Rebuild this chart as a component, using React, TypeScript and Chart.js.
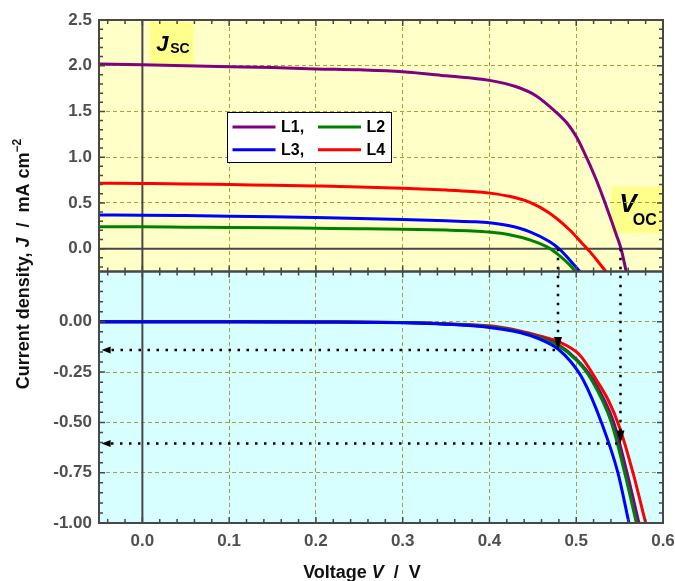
import React, { useEffect, useRef } from 'react';
import { Chart, registerables } from 'chart.js';

Chart.register(...registerables);

// ---------- data ----------
// Top panel: illuminated current density J (mA cm^-2) vs voltage V (V)
const L1_TOP_V = [-0.05, 0, 0.05, 0.1, 0.15, 0.2, 0.25, 0.3, 0.35, 0.4, 0.431, 0.454, 0.477, 0.49, 0.5, 0.5078, 0.5232, 0.5348, 0.5463, 0.552, 0.5578];
const L1_TOP_J = [2.02, 2.01, 2.0, 1.99, 1.98, 1.965, 1.955, 1.935, 1.89, 1.84, 1.77, 1.67, 1.49, 1.365, 1.225, 1.08, 0.751, 0.459, 0.15, -0.014, -0.26];

const L2_TOP_V = [-0.05, 0, 0.05, 0.1, 0.15, 0.2, 0.25, 0.3, 0.35, 0.38, 0.4, 0.423, 0.446, 0.469, 0.481, 0.4925, 0.5];
const L2_TOP_J = [0.24, 0.238, 0.235, 0.232, 0.228, 0.223, 0.218, 0.212, 0.203, 0.194, 0.181, 0.152, 0.097, 0.006, -0.08, -0.178, -0.26];

const L3_TOP_V = [-0.05, 0, 0.05, 0.1, 0.15, 0.2, 0.25, 0.3, 0.35, 0.38, 0.4, 0.423, 0.446, 0.469, 0.481, 0.4925, 0.505];
const L3_TOP_J = [0.368, 0.366, 0.361, 0.355, 0.348, 0.34, 0.33, 0.318, 0.305, 0.295, 0.283, 0.25, 0.186, 0.077, -0.007, -0.124, -0.26];

const L4_TOP_V = [-0.05, 0, 0.05, 0.1, 0.15, 0.2, 0.25, 0.3, 0.35, 0.38, 0.4, 0.423, 0.446, 0.469, 0.4925, 0.508, 0.5155, 0.525, 0.535];
const L4_TOP_J = [0.715, 0.712, 0.708, 0.7, 0.693, 0.685, 0.675, 0.66, 0.64, 0.624, 0.607, 0.572, 0.508, 0.39, 0.204, 0.045, -0.03, -0.14, -0.26];

// Bottom panel: J–V curves (negative branch)
const L1_BOT_V = [-0.05, 0.1, 0.2, 0.3, 0.35, 0.4, 0.435, 0.458, 0.479, 0.5, 0.5193, 0.5432, 0.5585, 0.5723];
const L1_BOT_J = [0, 0, -0.001, -0.004, -0.011, -0.024, -0.048, -0.077, -0.113, -0.185, -0.287, -0.5, -0.75, -1.0];

const L2_BOT_V = [-0.05, 0.1, 0.2, 0.3, 0.35, 0.4, 0.435, 0.458, 0.479, 0.5, 0.5174, 0.5405, 0.5558, 0.5693];
const L2_BOT_J = [0, 0, -0.001, -0.004, -0.011, -0.025, -0.05, -0.08, -0.118, -0.19, -0.287, -0.5, -0.75, -1.0];

const L3_BOT_V = [-0.05, 0.1, 0.2, 0.3, 0.35, 0.4, 0.435, 0.458, 0.479, 0.494, 0.5078, 0.529, 0.548, 0.5608];
const L3_BOT_J = [0, 0, -0.001, -0.005, -0.012, -0.028, -0.053, -0.086, -0.135, -0.2, -0.287, -0.5, -0.75, -1.0];

const L4_BOT_V = [-0.05, 0.1, 0.2, 0.3, 0.35, 0.4, 0.435, 0.458, 0.479, 0.504, 0.523, 0.537, 0.55, 0.5654, 0.58];
const L4_BOT_J = [0, 0, -0.001, -0.004, -0.01, -0.02, -0.045, -0.07, -0.098, -0.165, -0.287, -0.39, -0.525, -0.75, -1.0];

const SERIES_LABELS = ['L1,', 'L2', 'L3,', 'L4'];

// axes
const X_MIN = -0.05;
const X_MAX = 0.6;
const X_TICKS = [0, 0.1, 0.2, 0.3, 0.4, 0.5, 0.6];
const TOP_MIN = -0.25;
const TOP_MAX = 2.5;
const TOP_TICKS = [0, 0.5, 1.0, 1.5, 2.0, 2.5];
const BOT_MIN = -1.0;
const BOT_MAX = 0.25;
const BOT_TICKS = [-1.0, -0.75, -0.5, -0.25, 0];

// read-out arrows (V at the curve, J read on the axis)
const ARROW_V = [0.479, 0.551];
const ARROW_J = [-0.14, -0.605];
const ARROW_END_V = -0.047;

// ---------- styles ----------
const FONT = "'Liberation Sans', Arial, Helvetica, sans-serif";
const COL = { L1: '#800080', L2: '#008000', L3: '#0000ff', L4: '#ff0000' };
const TOP_BG = '#ffffc8';
const BOT_BG = '#d8ffff';
const LABEL_BG = '#ffff8c';
const GRID = '#a3a33a';
const FRAME = '#474747';
const TICK_TXT = '#4f4f4f';

const pts = (v: number[], j: number[]) => v.map((x, i) => ({ x, y: j[i] }));

type Seg = { t: string; font: string; dy?: number };
function drawRich(ctx: CanvasRenderingContext2D, segs: Seg[], cx: number, by: number, rot: number) {
  ctx.save();
  ctx.translate(cx, by);
  if (rot) ctx.rotate(rot);
  let w = 0;
  for (const s of segs) { ctx.font = s.font; w += ctx.measureText(s.t).width; }
  let x = -w / 2;
  ctx.textAlign = 'left';
  ctx.textBaseline = 'alphabetic';
  for (const s of segs) {
    ctx.font = s.font;
    ctx.fillText(s.t, x, s.dy || 0);
    x += ctx.measureText(s.t).width;
  }
  ctx.restore();
}

const panelPlugin = {
  id: 'panels',
  beforeDraw(chart: any) {
    const { ctx, chartArea: a, scales } = chart;
    const yT = scales.yT, yB = scales.yB, x = scales.x;
    ctx.save();
    ctx.fillStyle = TOP_BG;
    ctx.fillRect(a.left, yT.top, a.right - a.left, yT.bottom - yT.top);
    ctx.fillStyle = BOT_BG;
    ctx.fillRect(a.left, yB.top, a.right - a.left, yB.bottom - yB.top);
    // label boxes (data coordinates)
    ctx.fillStyle = LABEL_BG;
    const jx0 = x.getPixelForValue(0.0084), jx1 = x.getPixelForValue(0.059);
    const jy0 = yT.getPixelForValue(2.478), jy1 = yT.getPixelForValue(2.019);
    ctx.fillRect(jx0, jy0, jx1 - jx0, jy1 - jy0);
    const vx0 = x.getPixelForValue(0.5403), vx1 = x.getPixelForValue(0.6);
    const vy0 = yT.getPixelForValue(0.678), vy1 = yT.getPixelForValue(0.168);
    ctx.fillRect(vx0, vy0, vx1 - vx0, vy1 - vy0);
    ctx.fillStyle = '#000';
    ctx.textAlign = 'left';
    ctx.textBaseline = 'alphabetic';
    ctx.font = `italic bold 22px ${FONT}`;
    ctx.fillText('J', jx0 + 6.5, jy0 + 28.7);
    ctx.font = `bold 14px ${FONT}`;
    ctx.fillText('SC', jx0 + 20.5, jy0 + 31.3);
    ctx.font = `italic bold 26px ${FONT}`;
    ctx.fillText('V', vx0 + 8, vy0 + 25);
    ctx.font = `bold 16px ${FONT}`;
    ctx.fillText('OC', vx0 + 21.5, vy0 + 38.3);
    ctx.restore();
  },
  beforeDatasetsDraw(chart: any) {
    const { ctx, chartArea: a, scales } = chart;
    const yT = scales.yT, x = scales.x;
    ctx.save();
    ctx.strokeStyle = FRAME;
    ctx.lineWidth = 2;
    const y0 = yT.getPixelForValue(0);
    ctx.beginPath();
    ctx.moveTo(a.left, y0);
    ctx.lineTo(a.right, y0);
    const x0 = x.getPixelForValue(0);
    ctx.moveTo(x0, a.top);
    ctx.lineTo(x0, a.bottom);
    ctx.stroke();
    ctx.restore();
  },
  beforeDatasetDraw(chart: any, args: any) {
    const { ctx, chartArea: a } = chart;
    const ys = chart.scales[args.meta.yAxisID];
    ctx.save();
    ctx.beginPath();
    ctx.rect(a.left, ys.top, a.right - a.left, ys.bottom - ys.top);
    ctx.clip();
  },
  afterDatasetDraw(chart: any) {
    chart.ctx.restore();
  },
  afterDatasetsDraw(chart: any) {
    const { ctx, chartArea: a, scales } = chart;
    const yT = scales.yT, yB = scales.yB, x = scales.x;
    ctx.save();
    // read-out arrows
    for (let i = 0; i < ARROW_V.length; i++) {
      const xv = x.getPixelForValue(ARROW_V[i]);
      const yStart = yT.getPixelForValue(0);
      const yh = yB.getPixelForValue(ARROW_J[i]);
      const xl = x.getPixelForValue(ARROW_END_V);
      ctx.strokeStyle = '#000';
      ctx.lineWidth = 2.5;
      ctx.setLineDash([2.5, 6.5]);
      ctx.beginPath();
      ctx.moveTo(xv, yStart);
      ctx.lineTo(xv, yh - 12);
      ctx.moveTo(xv - 3, yh);
      ctx.lineTo(xl + 9, yh);
      ctx.stroke();
      ctx.setLineDash([]);
      ctx.fillStyle = '#000';
      ctx.beginPath();
      ctx.moveTo(xv, yh);
      ctx.lineTo(xv - 4, yh - 13);
      ctx.lineTo(xv + 4, yh - 13);
      ctx.closePath();
      ctx.fill();
      ctx.beginPath();
      ctx.moveTo(xl, yh);
      ctx.lineTo(xl + 9, yh - 3.5);
      ctx.lineTo(xl + 9, yh + 3.5);
      ctx.closePath();
      ctx.fill();
    }
    // frames + inward ticks
    const panels = [
      { s: yT, step: 0.1, major: 5, lo: TOP_MIN, hi: TOP_MAX },
      { s: yB, step: 0.05, major: 5, lo: BOT_MIN, hi: BOT_MAX },
    ];
    ctx.strokeStyle = FRAME;
    for (const p of panels) {
      const top = p.s.top, bot = p.s.bottom;
      ctx.lineWidth = 1.5;
      ctx.beginPath();
      for (let k = -3; k <= 31; k++) {
        const v = k * 0.02;
        if (v <= X_MIN + 1e-9 || v >= X_MAX - 1e-9) continue;
        const px = x.getPixelForValue(v);
        const len = k % 5 === 0 ? 6 : 4;
        ctx.moveTo(px, top);
        ctx.lineTo(px, top + len);
        ctx.moveTo(px, bot);
        ctx.lineTo(px, bot - len);
      }
      const k0 = Math.ceil(p.lo / p.step - 1e-6), k1 = Math.floor(p.hi / p.step + 1e-6);
      for (let k = k0; k <= k1; k++) {
        const v = k * p.step;
        if (v <= p.lo + 1e-9 || v >= p.hi - 1e-9) continue;
        const py = p.s.getPixelForValue(v);
        const len = k % p.major === 0 ? 6 : 4;
        ctx.moveTo(a.left, py);
        ctx.lineTo(a.left + len, py);
        ctx.moveTo(a.right, py);
        ctx.lineTo(a.right - len, py);
      }
      ctx.stroke();
      ctx.lineWidth = 2;
      ctx.strokeRect(a.left, top, a.right - a.left, bot - top);
    }
    // legend
    const lx = a.left + 128, ly = a.top + 92, lw = 164, lh = 50;
    ctx.fillStyle = '#ffffff';
    ctx.fillRect(lx, ly, lw, lh);
    ctx.strokeStyle = '#000';
    ctx.lineWidth = 1;
    ctx.strokeRect(lx + 0.5, ly + 0.5, lw, lh);
    const cols = [COL.L1, COL.L2, COL.L3, COL.L4];
    ctx.font = `bold 16px ${FONT}`;
    ctx.textBaseline = 'middle';
    ctx.textAlign = 'left';
    for (let i = 0; i < 4; i++) {
      const c = i % 2, r = Math.floor(i / 2);
      const sx = lx + (c === 0 ? 5.5 : 91);
      const sy = ly + (r === 0 ? 15 : 37.7);
      ctx.strokeStyle = cols[i];
      ctx.lineWidth = 3;
      ctx.beginPath();
      ctx.moveTo(sx, sy);
      ctx.lineTo(sx + 43, sy);
      ctx.stroke();
      ctx.fillStyle = '#000';
      ctx.fillText(SERIES_LABELS[i], sx + 48.5, sy + 1);
    }
    ctx.restore();
  },
  afterDraw(chart: any) {
    const ctx = chart.ctx;
    ctx.save();
    ctx.fillStyle = '#111';
    drawRich(ctx, [
      { t: 'Current density, ', font: `bold 18px ${FONT}` },
      { t: 'J', font: `italic bold 18px ${FONT}` },
      { t: '  /  mA cm', font: `bold 18px ${FONT}` },
      { t: '\u22122', font: `bold 12px ${FONT}`, dy: -8 },
    ], 29, 264, -Math.PI / 2);
    drawRich(ctx, [
      { t: 'Voltage ', font: `bold 18px ${FONT}` },
      { t: 'V', font: `italic bold 18px ${FONT}` },
      { t: '  /  V', font: `bold 18px ${FONT}` },
    ], 362, 578, 0);
    ctx.restore();
  },
};

function gridColor(values: number[]) {
  return (c: any) => {
    const v = c.tick ? c.tick.value : NaN;
    return values.some((g) => Math.abs(g - v) < 1e-9) ? GRID : 'rgba(0,0,0,0)';
  };
}

const zeroPad = (s: any) => {
  s.paddingLeft = 0;
  s.paddingRight = 0;
  s.paddingTop = 0;
  s.paddingBottom = 0;
};

const tickFont = { family: FONT, size: 17, weight: 'bold' as const };

export default function App() {
  const ref = useRef<HTMLCanvasElement | null>(null);
  useEffect(() => {
    document.body.style.margin = '0';
    const canvas = ref.current;
    if (!canvas) return;
    const line = (label: string, color: string, axis: string, v: number[], j: number[]) => ({
      label,
      data: pts(v, j),
      yAxisID: axis,
      borderColor: color,
      backgroundColor: color,
      borderWidth: 3,
      pointRadius: 0,
      fill: false,
      cubicInterpolationMode: 'monotone' as const,
    });
    const chart = new Chart(canvas, {
      type: 'line',
      data: {
        datasets: [
          line('L1', COL.L1, 'yT', L1_TOP_V, L1_TOP_J),
          line('L2', COL.L2, 'yT', L2_TOP_V, L2_TOP_J),
          line('L3', COL.L3, 'yT', L3_TOP_V, L3_TOP_J),
          line('L4', COL.L4, 'yT', L4_TOP_V, L4_TOP_J),
          line('L3', COL.L3, 'yB', L3_BOT_V, L3_BOT_J),
          line('L2', COL.L2, 'yB', L2_BOT_V, L2_BOT_J),
          line('L1', COL.L1, 'yB', L1_BOT_V, L1_BOT_J),
          line('L4', COL.L4, 'yB', L4_BOT_V, L4_BOT_J),
        ],
      },
      options: {
        responsive: false,
        animation: false,
        layout: { padding: { top: 20, right: 12, left: 0, bottom: 0 } },
        plugins: { legend: { display: false }, tooltip: { enabled: false } },
        scales: {
          x: {
            type: 'linear',
            min: X_MIN,
            max: X_MAX,
            afterBuildTicks: (s: any) => { s.ticks = X_TICKS.map((value) => ({ value })); },
            afterFit: (s: any) => { s.height = 58; zeroPad(s); },
            grid: { color: gridColor([0.1, 0.2, 0.3, 0.4, 0.5]), lineWidth: 1, drawTicks: false },
            border: { display: false, dash: [4, 3] },
            ticks: { padding: 8, color: TICK_TXT, font: tickFont, maxRotation: 0, callback: (v: any) => Number(v).toFixed(1) },
          },
          yB: {
            type: 'linear',
            position: 'left',
            stack: 'j',
            stackWeight: 1,
            min: BOT_MIN,
            max: BOT_MAX,
            afterBuildTicks: (s: any) => { s.ticks = BOT_TICKS.map((value) => ({ value })); },
            afterFit: (s: any) => { s.width = 99; zeroPad(s); },
            grid: { color: gridColor([-0.75, -0.5, -0.25, 0]), lineWidth: 1, drawTicks: false },
            border: { display: false, dash: [4, 3] },
            ticks: { padding: 7, color: TICK_TXT, font: tickFont, callback: (v: any) => Number(v).toFixed(2) },
          },
          yT: {
            type: 'linear',
            position: 'left',
            stack: 'j',
            stackWeight: 1,
            min: TOP_MIN,
            max: TOP_MAX,
            afterBuildTicks: (s: any) => { s.ticks = TOP_TICKS.map((value) => ({ value })); },
            afterFit: (s: any) => { s.width = 99; zeroPad(s); },
            grid: { color: gridColor([0.5, 1.0, 1.5, 2.0]), lineWidth: 1, drawTicks: false },
            border: { display: false, dash: [4, 3] },
            ticks: { padding: 7, color: TICK_TXT, font: tickFont, callback: (v: any) => Number(v).toFixed(1) },
          },
        },
      } as any,
      plugins: [panelPlugin],
    });
    return () => chart.destroy();
  }, []);
  return <canvas ref={ref} width={675} height={581} style={{ display: 'block' }} />;
}
